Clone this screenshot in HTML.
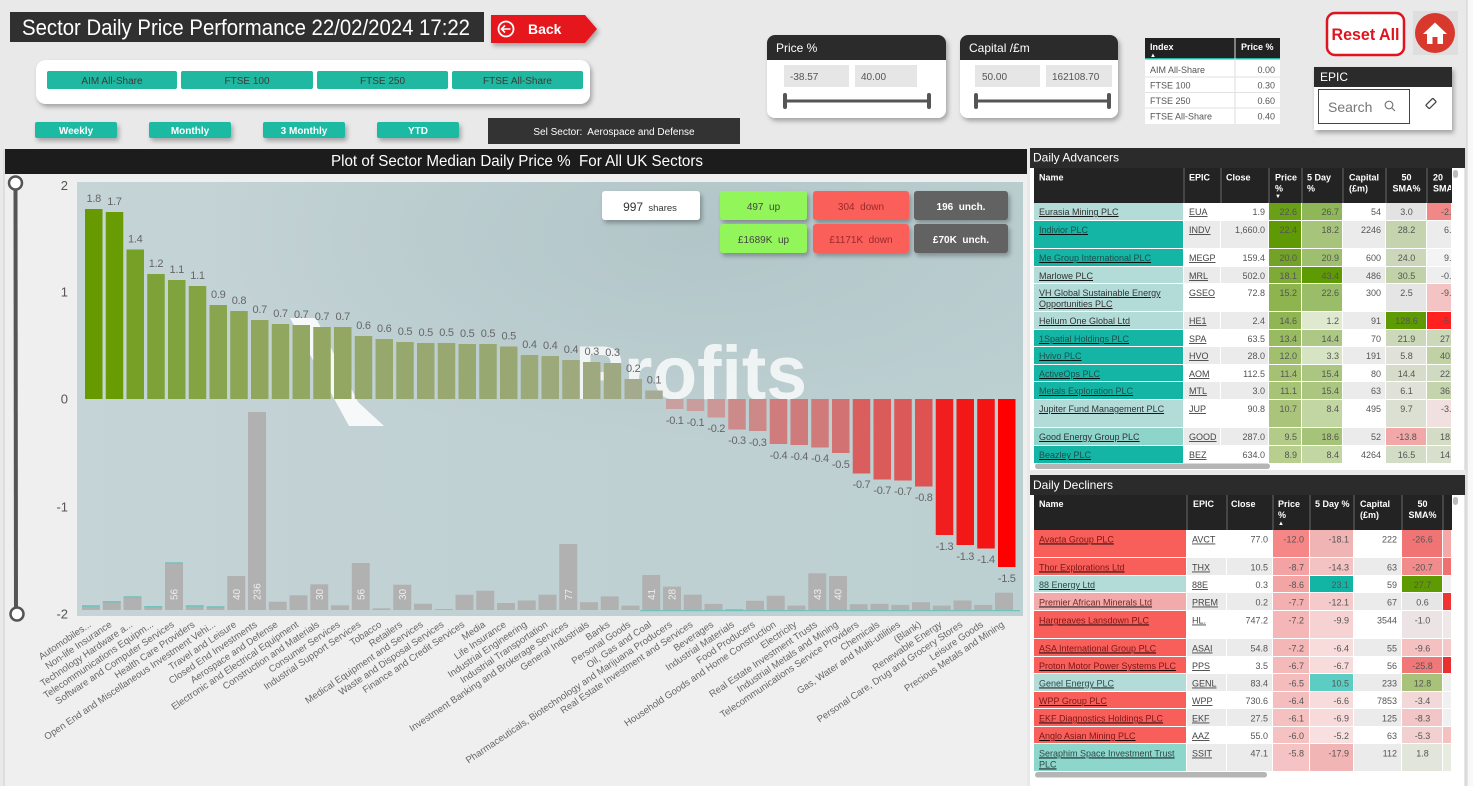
<!DOCTYPE html>
<html><head><meta charset="utf-8"><style>
html,body{margin:0;padding:0;background:#e9e9e9;}
svg{display:block;font-family:"Liberation Sans",sans-serif;}
.bl{font-size:11px;fill:#666;text-anchor:middle;letter-spacing:-0.3px}
.xl{font-size:9.6px;fill:#666;text-anchor:end}
.yl{font-size:13px;fill:#555;text-anchor:end}
.gn{font-size:10px;fill:#eee}
.hd{font-size:9px;fill:#fff;font-weight:bold}
.nm{font-size:9px;text-decoration:underline}
.t{font-size:9px;fill:#555}
.r{text-anchor:end}
.c{text-anchor:middle}
.ep{font-size:9px;fill:#444;text-decoration:underline}
</style></head><body>
<svg width="1473" height="786" viewBox="0 0 1473 786" xmlns="http://www.w3.org/2000/svg">
<defs>
<filter id="sh" x="-10%" y="-20%" width="130%" height="160%"><feDropShadow dx="2" dy="3" stdDeviation="2.5" flood-color="#000" flood-opacity=".3"/></filter>
<linearGradient id="pbg" x1="0" y1="0" x2="1" y2="0"><stop offset="0" stop-color="#c5d4d6"/><stop offset=".45" stop-color="#c0d1d3"/><stop offset="1" stop-color="#bccfd1"/></linearGradient>
<radialGradient id="dk" cx=".65" cy=".12" r=".5"><stop offset="0" stop-color="#a8bdc0" stop-opacity=".55"/><stop offset="1" stop-color="#a8bdc0" stop-opacity="0"/></radialGradient>
<clipPath id="c20"><rect x="1427" y="168" width="24" height="296"/></clipPath>
</defs>
<rect width="1473" height="786" fill="#e9e9e9"/>
<rect x="1467" y="0" width="6" height="786" fill="#f8f8f8"/>
<line x1="1467" y1="0" x2="1467" y2="786" stroke="#cfcfcf"/>

<!-- Title -->
<rect x="10" y="12" width="474" height="30" fill="#303030"/>
<text x="22" y="35" font-size="22" fill="#fff" textLength="448" lengthAdjust="spacingAndGlyphs">Sector Daily Price Performance 22/02/2024 17:22</text>
<path d="M491,15H585L597,29L585,43H491Z" fill="#e5131d" filter="url(#sh)"/>
<circle cx="506" cy="29" r="7.5" fill="none" stroke="#fff" stroke-width="1.8"/>
<path d="M510.5,29H502M505,25.5L501.5,29L505,32.5" fill="none" stroke="#fff" stroke-width="1.6"/>
<text x="528" y="34" font-size="14" font-weight="bold" fill="#fff">Back</text>

<!-- index buttons panel -->
<rect x="36" y="60" width="554" height="44" rx="10" fill="#fff" filter="url(#sh)"/>
<rect x="47" y="71" width="130" height="18" rx="2" fill="#20b8a0"/>
<rect x="181" y="71" width="132" height="18" rx="2" fill="#20b8a0"/>
<rect x="317" y="71" width="131" height="18" rx="2" fill="#20b8a0"/>
<rect x="452" y="71" width="131" height="18" rx="2" fill="#20b8a0"/>
<g font-size="10" fill="#3a3a3a" text-anchor="middle">
<text x="112" y="84">AIM All-Share</text><text x="247" y="84">FTSE 100</text><text x="382.5" y="84">FTSE 250</text><text x="517.5" y="84">FTSE All-Share</text></g>
<g filter="url(#sh)" fill="#1db9a3">
<rect x="35" y="122" width="82" height="16" rx="2"/><rect x="149" y="122" width="82" height="16" rx="2"/><rect x="263" y="122" width="82" height="16" rx="2"/><rect x="377" y="122" width="82" height="16" rx="2"/></g>
<g font-size="10" font-weight="bold" fill="#fff" text-anchor="middle">
<text x="76" y="134">Weekly</text><text x="190" y="134">Monthly</text><text x="304" y="134">3 Monthly</text><text x="418" y="134">YTD</text></g>
<rect x="488" y="118" width="252" height="26" fill="#333"/>
<text x="614" y="135" font-size="10" fill="#fff" text-anchor="middle">Sel Sector:&#160; Aerospace and Defense</text>

<!-- Price % panel -->
<rect x="767" y="35" width="179" height="83" rx="8" fill="#fff" filter="url(#sh)"/>
<rect x="767" y="35" width="179" height="25" rx="8" fill="#2b2b2b"/><rect x="767" y="48" width="179" height="12" fill="#2b2b2b"/>
<text x="776" y="52" font-size="12" fill="#fff">Price %</text>
<rect x="784" y="65" width="65" height="22" fill="#e6e6e6"/><rect x="855" y="65" width="62" height="22" fill="#e6e6e6"/>
<text x="790" y="80" font-size="10" fill="#555">-38.57</text><text x="861" y="80" font-size="10" fill="#555">40.00</text>
<line x1="786" y1="101" x2="928" y2="101" stroke="#555" stroke-width="3"/>
<rect x="783" y="93" width="4" height="16" rx="2" fill="#555"/><rect x="927" y="93" width="4" height="16" rx="2" fill="#555"/>

<!-- Capital panel -->
<rect x="960" y="35" width="158" height="83" rx="8" fill="#fff" filter="url(#sh)"/>
<rect x="960" y="35" width="158" height="25" rx="8" fill="#2b2b2b"/><rect x="960" y="48" width="158" height="12" fill="#2b2b2b"/>
<text x="969" y="52" font-size="12" fill="#fff">Capital /£m</text>
<rect x="975" y="65" width="65" height="22" fill="#e6e6e6"/><rect x="1046" y="65" width="66" height="22" fill="#e6e6e6"/>
<text x="982" y="80" font-size="10" fill="#555">50.00</text><text x="1052" y="80" font-size="10" fill="#555">162108.70</text>
<line x1="977" y1="101" x2="1109" y2="101" stroke="#555" stroke-width="3"/>
<rect x="974" y="93" width="4" height="16" rx="2" fill="#555"/><rect x="1107" y="93" width="4" height="16" rx="2" fill="#555"/>

<!-- Index table -->
<rect x="1145" y="38" width="135" height="86" fill="#fff"/>
<rect x="1145" y="38" width="135" height="20" fill="#222"/>
<rect x="1145" y="58" width="135" height="1.5" fill="#2bb5a5"/>
<line x1="1235" y1="38" x2="1235" y2="124" stroke="#ddd"/>
<text x="1150" y="50" class="hd" font-weight="normal">Index</text><text x="1150" y="57" font-size="6" fill="#fff">▲</text>
<text x="1241" y="50" class="hd" font-weight="normal">Price %</text>
<g stroke="#e2e2e2"><line x1="1145" y1="77" x2="1280" y2="77"/><line x1="1145" y1="92.5" x2="1280" y2="92.5"/><line x1="1145" y1="108" x2="1280" y2="108"/></g>
<g class="t" font-size="9"><text x="1150" y="73">AIM All-Share</text><text x="1150" y="88.5">FTSE 100</text><text x="1150" y="104">FTSE 250</text><text x="1150" y="119.5">FTSE All-Share</text>
<text x="1275" y="73" class="r">0.00</text><text x="1275" y="88.5" class="r">0.30</text><text x="1275" y="104" class="r">0.60</text><text x="1275" y="119.5" class="r">0.40</text></g>

<!-- Reset / Home -->
<rect x="1327" y="13" width="77" height="42" rx="8" fill="#fff" stroke="#e0141e" stroke-width="2.5"/>
<text x="1365.5" y="40" font-size="16.5" font-weight="bold" fill="#e0141e" text-anchor="middle" textLength="68" lengthAdjust="spacingAndGlyphs">Reset All</text>
<rect x="1413" y="11" width="45" height="44" fill="#dedede"/>
<circle cx="1435" cy="33" r="20" fill="#d8392c"/>
<path d="M1423,34L1435,22.5L1447,34Z" fill="#fff"/><rect x="1427" y="32" width="16" height="12" fill="#fff"/><rect x="1432.5" y="37" width="5" height="7" fill="#d8392c"/>

<!-- EPIC -->
<rect x="1314" y="67" width="138" height="63" fill="#fff" filter="url(#sh)"/>
<rect x="1314" y="67" width="138" height="20" fill="#2b2b2b"/>
<text x="1320" y="81" font-size="12" fill="#fff">EPIC</text>
<rect x="1318.5" y="89.5" width="91" height="34" fill="#fff" stroke="#444"/>
<text x="1328" y="112" font-size="14" fill="#777">Search</text>
<circle cx="1389" cy="105" r="3.8" fill="none" stroke="#777" stroke-width="1.2"/><line x1="1392" y1="108" x2="1395" y2="111" stroke="#777" stroke-width="1.2"/>
<rect x="1426" y="101" width="10" height="5" rx="1" transform="rotate(-45 1431 103.5)" fill="none" stroke="#444" stroke-width="1.3"/>

<!-- Chart panel -->
<rect x="4" y="149" width="1023" height="637" fill="#efefef"/>
<line x1="4" y1="149" x2="4" y2="786" stroke="#cfcfcf"/>
<rect x="5" y="149" width="1022" height="25" fill="#1c1c1c"/>
<text x="517" y="166" font-size="16" fill="#fff" text-anchor="middle" textLength="372" lengthAdjust="spacingAndGlyphs">Plot of Sector Median Daily Price %&#160; For All UK Sectors</text>

<rect x="77" y="182" width="946" height="434" fill="url(#pbg)"/>
<rect x="77" y="182" width="946" height="434" fill="url(#dk)"/>
<polygon points="290,318 316,318 358,402 384,426 349,426" fill="#fff" opacity=".85"/>
<text x="575" y="399" font-size="76" font-weight="bold" fill="#fff" opacity=".78" textLength="232" lengthAdjust="spacingAndGlyphs">Profits</text>

<!-- gray volume bars -->
<g fill="#b1b1b1">
<rect x="82" y="605.3" width="18" height="4.7"/><rect x="102.75" y="601" width="18" height="9"/><rect x="123.5" y="596.3" width="18" height="13.7"/><rect x="144.25" y="606" width="18" height="4"/><rect x="165" y="562.3" width="18" height="47.7"/><rect x="185.75" y="605.3" width="18" height="4.7"/><rect x="206.5" y="606.3" width="18" height="3.7"/><rect x="227.25" y="576" width="18" height="34"/><rect x="248" y="412" width="18" height="198"/><rect x="268.75" y="601.7" width="18" height="8.3"/><rect x="289.5" y="595.3" width="18" height="14.7"/><rect x="310.25" y="584.3" width="18" height="25.7"/><rect x="331" y="605.3" width="18" height="4.7"/><rect x="351.75" y="563" width="18" height="47"/><rect x="372.5" y="608.3" width="18" height="1.7"/><rect x="393.25" y="584.7" width="18" height="25.3"/><rect x="414" y="603.7" width="18" height="6.3"/><rect x="434.75" y="609" width="18" height="1"/><rect x="455.5" y="594.7" width="18" height="15.3"/><rect x="476.25" y="590.7" width="18" height="19.3"/><rect x="497" y="603" width="18" height="7"/><rect x="517.75" y="600.5" width="18" height="9.5"/><rect x="538.5" y="594.7" width="18" height="15.3"/><rect x="559.25" y="544" width="18" height="66"/><rect x="580" y="602.2" width="18" height="7.8"/><rect x="600.75" y="596.4" width="18" height="13.6"/><rect x="621.5" y="605.6" width="18" height="4.4"/><rect x="642.25" y="575" width="18" height="35"/><rect x="663" y="586.6" width="18" height="23.4"/><rect x="683.75" y="594.7" width="18" height="15.3"/><rect x="704.5" y="603.9" width="18" height="6.1"/><rect x="725.25" y="609" width="18" height="1"/><rect x="746" y="600.8" width="18" height="9.2"/><rect x="766.75" y="595.7" width="18" height="14.3"/><rect x="787.5" y="605.6" width="18" height="4.4"/><rect x="808.25" y="573.3" width="18" height="36.7"/><rect x="829" y="576" width="18" height="34"/><rect x="849.75" y="604.2" width="18" height="5.8"/><rect x="870.5" y="603.9" width="18" height="6.1"/><rect x="891.25" y="604.9" width="18" height="5.1"/><rect x="912" y="602.2" width="18" height="7.8"/><rect x="932.75" y="605.6" width="18" height="4.4"/><rect x="953.5" y="600.5" width="18" height="9.5"/><rect x="974.25" y="604.9" width="18" height="5.1"/><rect x="995" y="592.7" width="18" height="17.3"/>
</g>
<g fill="#6fc4be">
<rect x="82" y="605.3" width="18" height="1.5"/><rect x="102.75" y="601" width="18" height="1.5"/><rect x="123.5" y="596.3" width="18" height="1.5"/><rect x="144.25" y="606" width="18" height="1.5"/><rect x="165" y="562.3" width="18" height="1.2"/><rect x="185.75" y="605.3" width="18" height="1.5"/><rect x="206.5" y="606.3" width="18" height="1.5"/><rect x="640" y="610" width="380" height="1.2"/>
</g>
<g class="gn">
<text transform="translate(177.5,600) rotate(-90)">56</text><text transform="translate(239.75,600) rotate(-90)">40</text><text transform="translate(260.5,600) rotate(-90)">236</text><text transform="translate(322.75,600) rotate(-90)">30</text><text transform="translate(364.25,600) rotate(-90)">56</text><text transform="translate(405.75,600) rotate(-90)">30</text><text transform="translate(571.75,600) rotate(-90)">77</text><text transform="translate(654.75,600) rotate(-90)">41</text><text transform="translate(675.5,600) rotate(-90)">28</text><text transform="translate(820.75,600) rotate(-90)">43</text><text transform="translate(841.5,600) rotate(-90)">40</text>
</g>

<!-- main bars -->
<rect x="85" y="209" width="17.5" height="190" fill="#669a00"/>
<rect x="105.75" y="212" width="17.5" height="187" fill="#689b04"/>
<rect x="126.5" y="249.5" width="17.5" height="149.5" fill="#76a026"/>
<rect x="147.25" y="274" width="17.5" height="125" fill="#7fa238"/>
<rect x="168" y="280" width="17.5" height="119" fill="#81a33d"/>
<rect x="188.75" y="286" width="17.5" height="113" fill="#84a342"/>
<rect x="209.5" y="305" width="17.5" height="94" fill="#8aa550"/>
<rect x="230.25" y="311" width="17.5" height="88" fill="#8ca654"/>
<rect x="251" y="320" width="17.5" height="79" fill="#90a65d"/>
<rect x="271.75" y="324" width="17.5" height="75" fill="#91a760"/>
<rect x="292.5" y="325" width="17.5" height="74" fill="#92a761"/>
<rect x="313.25" y="327" width="17.5" height="72" fill="#93a763"/>
<rect x="334" y="327" width="17.5" height="72" fill="#93a763"/>
<rect x="354.75" y="336" width="17.5" height="63" fill="#95a86a"/>
<rect x="375.5" y="339" width="17.5" height="60" fill="#96a86c"/>
<rect x="396.25" y="342" width="17.5" height="57" fill="#97a86f"/>
<rect x="417" y="343" width="17.5" height="56" fill="#98a870"/>
<rect x="437.75" y="343" width="17.5" height="56" fill="#98a870"/>
<rect x="458.5" y="344" width="17.5" height="55" fill="#98a871"/>
<rect x="479.25" y="344" width="17.5" height="55" fill="#98a871"/>
<rect x="500" y="346.5" width="17.5" height="52.5" fill="#99a873"/>
<rect x="520.75" y="355" width="17.5" height="44" fill="#9ca979"/>
<rect x="541.5" y="356" width="17.5" height="43" fill="#9ca97a"/>
<rect x="562.25" y="360" width="17.5" height="39" fill="#9ea97d"/>
<rect x="583" y="362" width="17.5" height="37" fill="#9fa980"/>
<rect x="603.75" y="363" width="17.5" height="36" fill="#9fa981"/>
<rect x="624.5" y="379" width="17.5" height="20" fill="#a3aa8d"/>
<rect x="645.25" y="390.5" width="17.5" height="8.5" fill="#a6ab95"/>
<rect x="666" y="399" width="17.5" height="10" fill="#c8a0a0"/>
<rect x="686.75" y="399" width="17.5" height="12" fill="#c99d9d"/>
<rect x="707.5" y="399" width="17.5" height="18.5" fill="#cb9797"/>
<rect x="728.25" y="399" width="17.5" height="30.5" fill="#cd8a8a"/>
<rect x="749" y="399" width="17.5" height="32" fill="#cd8888"/>
<rect x="769.75" y="399" width="17.5" height="45" fill="#d07c7c"/>
<rect x="790.5" y="399" width="17.5" height="46" fill="#d07b7b"/>
<rect x="811.25" y="399" width="17.5" height="48.5" fill="#d17a7a"/>
<rect x="832" y="399" width="17.5" height="54" fill="#d37272"/>
<rect x="852.75" y="399" width="17.5" height="74.5" fill="#da5e5e"/>
<rect x="873.5" y="399" width="17.5" height="80.5" fill="#db5a5a"/>
<rect x="894.25" y="399" width="17.5" height="81.5" fill="#dc5959"/>
<rect x="915" y="399" width="17.5" height="87.5" fill="#de5252"/>
<rect x="935.75" y="399" width="17.5" height="136" fill="#f01e1e"/>
<rect x="956.5" y="399" width="17.5" height="146" fill="#f31818"/>
<rect x="977.25" y="399" width="17.5" height="149.5" fill="#f51414"/>
<rect x="998" y="399" width="17.5" height="168" fill="#ff0000"/>

<g class="bl">
<text x="93.75" y="202">1.8</text><text x="114.5" y="205">1.7</text><text x="135.25" y="242.5">1.4</text><text x="156" y="267">1.2</text><text x="176.75" y="273">1.1</text><text x="197.5" y="279">1.1</text><text x="218.25" y="298">0.9</text><text x="239" y="304">0.8</text><text x="259.75" y="313">0.7</text><text x="280.5" y="317">0.7</text><text x="301.25" y="318">0.7</text><text x="322" y="320">0.7</text><text x="342.75" y="320">0.7</text><text x="363.5" y="329">0.6</text><text x="384.25" y="332">0.6</text><text x="405" y="335">0.5</text><text x="425.75" y="336">0.5</text><text x="446.5" y="336">0.5</text><text x="467.25" y="337">0.5</text><text x="488" y="337">0.5</text><text x="508.75" y="339.5">0.5</text><text x="529.5" y="348">0.4</text><text x="550.25" y="349">0.4</text><text x="571" y="353">0.4</text><text x="591.75" y="355">0.3</text><text x="612.5" y="356">0.3</text><text x="633.25" y="372">0.2</text><text x="654" y="383.5">0.1</text>
<text x="674.75" y="424">-0.1</text><text x="695.5" y="426">-0.1</text><text x="716.25" y="432">-0.2</text><text x="737" y="444">-0.3</text><text x="757.75" y="446">-0.3</text><text x="778.5" y="459">-0.4</text><text x="799.25" y="460">-0.4</text><text x="820" y="462">-0.4</text><text x="840.75" y="468">-0.5</text><text x="861.5" y="488">-0.7</text><text x="882.25" y="494">-0.7</text><text x="903" y="495">-0.7</text><text x="923.75" y="501">-0.8</text><text x="944.5" y="550">-1.3</text><text x="965.25" y="560">-1.3</text><text x="986" y="563">-1.4</text><text x="1006.75" y="582">-1.5</text>
</g>

<!-- stats boxes -->
<rect x="602" y="191" width="98" height="29" rx="3" fill="#fff" filter="url(#sh)"/>
<text x="650" y="211" text-anchor="middle" fill="#333"><tspan font-size="12">997</tspan><tspan font-size="9.5">&#160; shares</tspan></text>
<g filter="url(#sh)">
<rect x="720" y="191" width="87" height="29" rx="3" fill="#92f65a"/><rect x="720" y="224" width="87" height="29" rx="3" fill="#92f65a"/>
<rect x="813" y="191" width="96" height="29" rx="3" fill="#fa5f5a"/><rect x="813" y="224" width="96" height="29" rx="3" fill="#fa5f5a"/>
<rect x="914" y="191" width="94" height="29" rx="3" fill="#626262"/><rect x="914" y="224" width="94" height="29" rx="3" fill="#626262"/>
</g>
<g font-size="10" text-anchor="middle">
<text x="763.5" y="210" fill="#444">497&#160; up</text><text x="763.5" y="243" fill="#444">£1689K&#160; up</text>
<text x="861" y="210" fill="#9a2a2a">304&#160; down</text><text x="861" y="243" fill="#9a2a2a">£1171K&#160; down</text>
<text x="961" y="210" fill="#fff" font-weight="bold">196&#160; unch.</text><text x="961" y="243" fill="#fff" font-weight="bold">£70K&#160; unch.</text>
</g>

<!-- y axis -->
<g class="yl"><text x="68" y="190">2</text><text x="68" y="296.5">1</text><text x="68" y="403.5">0</text><text x="68" y="511.5">-1</text><text x="68" y="618.5">-2</text></g>
<line x1="15.5" y1="184" x2="16" y2="613" stroke="#555" stroke-width="4"/>
<circle cx="15.5" cy="183" r="6.5" fill="#fff" stroke="#555" stroke-width="2.5"/>
<circle cx="17" cy="614" r="6.5" fill="#fff" stroke="#555" stroke-width="2.5"/>

<!-- x labels -->
<g class="xl">
<text transform="translate(91.75,626) rotate(-34)">Automobiles...</text>
<text transform="translate(112.5,626) rotate(-34)">Non-life Insurance</text>
<text transform="translate(133.25,626) rotate(-34)">Technology Hardware a...</text>
<text transform="translate(154,626) rotate(-34)">Telecommunications Equipm...</text>
<text transform="translate(174.75,626) rotate(-34)">Software and Computer Services</text>
<text transform="translate(195.5,626) rotate(-34)">Health Care Providers</text>
<text transform="translate(216.25,626) rotate(-34)">Open End and Miscellaneous Investment Vehi...</text>
<text transform="translate(237,626) rotate(-34)">Travel and Leisure</text>
<text transform="translate(257.75,626) rotate(-34)">Closed End Investments</text>
<text transform="translate(278.5,626) rotate(-34)">Aerospace and Defense</text>
<text transform="translate(299.25,626) rotate(-34)">Electronic and Electrical Equipment</text>
<text transform="translate(320,626) rotate(-34)">Construction and Materials</text>
<text transform="translate(340.75,626) rotate(-34)">Consumer Services</text>
<text transform="translate(361.5,626) rotate(-34)">Industrial Support Services</text>
<text transform="translate(382.25,626) rotate(-34)">Tobacco</text>
<text transform="translate(403,626) rotate(-34)">Retailers</text>
<text transform="translate(423.75,626) rotate(-34)">Medical Equipment and Services</text>
<text transform="translate(444.5,626) rotate(-34)">Waste and Disposal Services</text>
<text transform="translate(465.25,626) rotate(-34)">Finance and Credit Services</text>
<text transform="translate(486,626) rotate(-34)">Media</text>
<text transform="translate(506.75,626) rotate(-34)">Life Insurance</text>
<text transform="translate(527.5,626) rotate(-34)">Industrial Engineering</text>
<text transform="translate(548.25,626) rotate(-34)">Industrial Transportation</text>
<text transform="translate(569,626) rotate(-34)">Investment Banking and Brokerage Services</text>
<text transform="translate(589.75,626) rotate(-34)">General Industrials</text>
<text transform="translate(610.5,626) rotate(-34)">Banks</text>
<text transform="translate(631.25,626) rotate(-34)">Personal Goods</text>
<text transform="translate(652,626) rotate(-34)">Oil, Gas and Coal</text>
<text transform="translate(672.75,626) rotate(-34)">Pharmaceuticals, Biotechnology and Marijuana Producers</text>
<text transform="translate(693.5,626) rotate(-34)">Real Estate Investment and Services</text>
<text transform="translate(714.25,626) rotate(-34)">Beverages</text>
<text transform="translate(735,626) rotate(-34)">Industrial Materials</text>
<text transform="translate(755.75,626) rotate(-34)">Food Producers</text>
<text transform="translate(776.5,626) rotate(-34)">Household Goods and Home Construction</text>
<text transform="translate(797.25,626) rotate(-34)">Electricity</text>
<text transform="translate(818,626) rotate(-34)">Real Estate Investment Trusts</text>
<text transform="translate(838.75,626) rotate(-34)">Industrial Metals and Mining</text>
<text transform="translate(859.5,626) rotate(-34)">Telecommunications Service Providers</text>
<text transform="translate(880.25,626) rotate(-34)">Chemicals</text>
<text transform="translate(901,626) rotate(-34)">Gas, Water and Multi-utilities</text>
<text transform="translate(921.75,626) rotate(-34)">(Blank)</text>
<text transform="translate(942.5,626) rotate(-34)">Renewable Energy</text>
<text transform="translate(963.25,626) rotate(-34)">Personal Care, Drug and Grocery Stores</text>
<text transform="translate(984,626) rotate(-34)">Leisure Goods</text>
<text transform="translate(1004.75,626) rotate(-34)">Precious Metals and Mining</text>
</g>

<!-- ===== Daily Advancers ===== -->
<rect x="1030" y="148" width="435" height="322" fill="#fff"/>
<line x1="1465" y1="148" x2="1465" y2="470" stroke="#ccc"/>
<rect x="1030" y="148" width="435" height="20" fill="#2b2b2b"/>
<text x="1033" y="161.5" font-size="12" fill="#fff">Daily Advancers</text>
<rect x="1034" y="168" width="418" height="35" fill="#232323"/>
<g stroke="#6a6a6a"><line x1="1184" y1="168" x2="1184" y2="203"/><line x1="1221" y1="168" x2="1221" y2="203"/><line x1="1269" y1="168" x2="1269" y2="203"/><line x1="1302" y1="168" x2="1302" y2="203"/><line x1="1343" y1="168" x2="1343" y2="203"/><line x1="1386" y1="168" x2="1386" y2="203"/><line x1="1427" y1="168" x2="1427" y2="203"/></g>
<g class="hd">
<text x="1039" y="180.5">Name</text><text x="1189" y="180.5">EPIC</text><text x="1226" y="180.5">Close</text>
<text x="1275" y="180.5">Price</text><text x="1275" y="191.5">%</text><text x="1275" y="198" font-size="6">▼</text>
<text x="1307" y="180.5">5 Day</text><text x="1307" y="191.5">%</text>
<text x="1349" y="180.5">Capital</text><text x="1349" y="191.5">(£m)</text>
<text x="1406.5" y="180.5" text-anchor="middle">50</text><text x="1406.5" y="191.5" text-anchor="middle">SMA%</text>
</g>
<g clip-path="url(#c20)" class="hd"><text x="1433" y="180.5">20</text><text x="1433" y="191.5">SMA</text></g>
<rect x="1453" y="170" width="5" height="8" rx="2.5" fill="#bbb"/>

<g>
<rect x="1034" y="203" width="149" height="17" fill="#b3dcd8"/>
<rect x="1034" y="221" width="149" height="27" fill="#14b5a5"/>
<rect x="1034" y="249" width="149" height="17" fill="#14b5a5"/>
<rect x="1034" y="267" width="149" height="16" fill="#b3dcd8"/>
<rect x="1034" y="284" width="149" height="27" fill="#b3dcd8"/>
<rect x="1034" y="312" width="149" height="17" fill="#b3dcd8"/>
<rect x="1034" y="330" width="149" height="16" fill="#14b5a5"/>
<rect x="1034" y="347" width="149" height="17" fill="#14b5a5"/>
<rect x="1034" y="365" width="149" height="16" fill="#14b5a5"/>
<rect x="1034" y="382" width="149" height="17" fill="#14b5a5"/>
<rect x="1034" y="400" width="149" height="27" fill="#b3dcd8"/>
<rect x="1034" y="428" width="149" height="17" fill="#8dd4cb"/>
<rect x="1034" y="446" width="149" height="17" fill="#14b5a5"/>
</g>
<g fill="#ebebeb">
<rect x="1184" y="221" width="36" height="27"/><rect x="1221" y="221" width="47" height="27"/><rect x="1343" y="221" width="42" height="27"/>
<rect x="1184" y="267" width="36" height="16"/><rect x="1221" y="267" width="47" height="16"/><rect x="1343" y="267" width="42" height="16"/>
<rect x="1184" y="312" width="36" height="17"/><rect x="1221" y="312" width="47" height="17"/><rect x="1343" y="312" width="42" height="17"/>
<rect x="1184" y="347" width="36" height="17"/><rect x="1221" y="347" width="47" height="17"/><rect x="1343" y="347" width="42" height="17"/>
<rect x="1184" y="382" width="36" height="17"/><rect x="1221" y="382" width="47" height="17"/><rect x="1343" y="382" width="42" height="17"/>
<rect x="1184" y="428" width="36" height="17"/><rect x="1221" y="428" width="47" height="17"/><rect x="1343" y="428" width="42" height="17"/>
</g>
<rect x="1269" y="203" width="32" height="17" fill="#6aa018"/>
<rect x="1269" y="221" width="32" height="27" fill="#5f9a04"/>
<rect x="1269" y="249" width="32" height="17" fill="#72a326"/>
<rect x="1269" y="267" width="32" height="16" fill="#7dab35"/>
<rect x="1269" y="284" width="32" height="27" fill="#8db44e"/>
<rect x="1269" y="312" width="32" height="17" fill="#90b554"/>
<rect x="1269" y="330" width="32" height="16" fill="#98ba60"/>
<rect x="1269" y="347" width="32" height="17" fill="#a1c06d"/>
<rect x="1269" y="365" width="32" height="16" fill="#a5c273"/>
<rect x="1269" y="382" width="32" height="17" fill="#a7c376"/>
<rect x="1269" y="400" width="32" height="27" fill="#aac57b"/>
<rect x="1269" y="428" width="32" height="17" fill="#b3cb88"/>
<rect x="1269" y="446" width="32" height="17" fill="#b7ce8e"/>
<rect x="1302" y="203" width="40" height="17" fill="#8fb757"/>
<rect x="1302" y="221" width="40" height="27" fill="#a6c47a"/>
<rect x="1302" y="249" width="40" height="17" fill="#9ec06e"/>
<rect x="1302" y="267" width="40" height="16" fill="#5e9a02"/>
<rect x="1302" y="284" width="40" height="27" fill="#99bd68"/>
<rect x="1302" y="312" width="40" height="17" fill="#dfe9cf"/>
<rect x="1302" y="330" width="40" height="16" fill="#adc884"/>
<rect x="1302" y="347" width="40" height="17" fill="#d7e4c4"/>
<rect x="1302" y="365" width="40" height="16" fill="#aac680"/>
<rect x="1302" y="382" width="40" height="17" fill="#aac680"/>
<rect x="1302" y="400" width="40" height="27" fill="#c2d6a4"/>
<rect x="1302" y="428" width="40" height="17" fill="#a5c379"/>
<rect x="1302" y="446" width="40" height="17" fill="#c2d6a4"/>
<rect x="1386" y="203" width="40" height="17" fill="#e3e3e3"/>
<rect x="1386" y="221" width="40" height="27" fill="#c5d3ae"/>
<rect x="1386" y="249" width="40" height="17" fill="#cbd7b8"/>
<rect x="1386" y="267" width="40" height="16" fill="#c1d1a8"/>
<rect x="1386" y="284" width="40" height="27" fill="#e5e5e5"/>
<rect x="1386" y="312" width="40" height="17" fill="#5e9a02"/>
<rect x="1386" y="330" width="40" height="16" fill="#ccd8ba"/>
<rect x="1386" y="347" width="40" height="17" fill="#e0e2da"/>
<rect x="1386" y="365" width="40" height="16" fill="#d5ddca"/>
<rect x="1386" y="382" width="40" height="17" fill="#e0e2da"/>
<rect x="1386" y="400" width="40" height="27" fill="#dce0d2"/>
<rect x="1386" y="428" width="40" height="17" fill="#f2a8a8"/>
<rect x="1386" y="446" width="40" height="17" fill="#d3dcc6"/>
<rect x="1427" y="203" width="24" height="17" fill="#f08888"/>
<rect x="1427" y="221" width="24" height="27" fill="#ececec"/>
<rect x="1427" y="249" width="24" height="17" fill="#f4f4f4"/>
<rect x="1427" y="267" width="24" height="16" fill="#eeeeee"/>
<rect x="1427" y="284" width="24" height="27" fill="#f4c4c4"/>
<rect x="1427" y="312" width="24" height="17" fill="#ff2020"/>
<rect x="1427" y="330" width="24" height="16" fill="#ccd8ba"/>
<rect x="1427" y="347" width="24" height="17" fill="#c0d2a4"/>
<rect x="1427" y="365" width="24" height="16" fill="#d0dac0"/>
<rect x="1427" y="382" width="24" height="17" fill="#c4d4ac"/>
<rect x="1427" y="400" width="24" height="27" fill="#f0e0e0"/>
<rect x="1427" y="428" width="24" height="17" fill="#d4dcc6"/>
<rect x="1427" y="446" width="24" height="17" fill="#d8dfcc"/>

<g class="nm">
<text x="1039" y="215" fill="#333">Eurasia Mining PLC</text>
<text x="1039" y="233" fill="#1d4f4b">Indivior PLC</text>
<text x="1039" y="261" fill="#1d4f4b">Me Group International PLC</text>
<text x="1039" y="279" fill="#333">Marlowe PLC</text>
<text x="1039" y="296" fill="#333">VH Global Sustainable Energy</text>
<text x="1039" y="307" fill="#333">Opportunities PLC</text>
<text x="1039" y="324" fill="#333">Helium One Global Ltd</text>
<text x="1039" y="342" fill="#1d4f4b">1Spatial Holdings PLC</text>
<text x="1039" y="359" fill="#1d4f4b">Hvivo PLC</text>
<text x="1039" y="377" fill="#1d4f4b">ActiveOps PLC</text>
<text x="1039" y="394" fill="#1d4f4b">Metals Exploration PLC</text>
<text x="1039" y="412" fill="#333">Jupiter Fund Management PLC</text>
<text x="1039" y="440" fill="#333">Good Energy Group PLC</text>
<text x="1039" y="458" fill="#1d4f4b">Beazley PLC</text>
</g>
<g class="ep">
<text x="1189" y="215">EUA</text><text x="1189" y="233">INDV</text><text x="1189" y="261">MEGP</text><text x="1189" y="279">MRL</text><text x="1189" y="296">GSEO</text><text x="1189" y="324">HE1</text><text x="1189" y="342">SPA</text><text x="1189" y="359">HVO</text><text x="1189" y="377">AOM</text><text x="1189" y="394">MTL</text><text x="1189" y="412">JUP</text><text x="1189" y="440">GOOD</text><text x="1189" y="458">BEZ</text>
</g>
<g class="t r">
<text x="1265" y="215">1.9</text><text x="1265" y="233">1,660.0</text><text x="1265" y="261">159.4</text><text x="1265" y="279">502.0</text><text x="1265" y="296">72.8</text><text x="1265" y="324">2.4</text><text x="1265" y="342">63.5</text><text x="1265" y="359">28.0</text><text x="1265" y="377">112.5</text><text x="1265" y="394">3.0</text><text x="1265" y="412">90.8</text><text x="1265" y="440">287.0</text><text x="1265" y="458">634.0</text>
<text x="1297" y="215">22.6</text><text x="1297" y="233">22.4</text><text x="1297" y="261">20.0</text><text x="1297" y="279">18.1</text><text x="1297" y="296">15.2</text><text x="1297" y="324">14.6</text><text x="1297" y="342">13.4</text><text x="1297" y="359">12.0</text><text x="1297" y="377">11.4</text><text x="1297" y="394">11.1</text><text x="1297" y="412">10.7</text><text x="1297" y="440">9.5</text><text x="1297" y="458">8.9</text>
<text x="1339" y="215">26.7</text><text x="1339" y="233">18.2</text><text x="1339" y="261">20.9</text><text x="1339" y="279">43.4</text><text x="1339" y="296">22.6</text><text x="1339" y="324">1.2</text><text x="1339" y="342">14.4</text><text x="1339" y="359">3.3</text><text x="1339" y="377">15.4</text><text x="1339" y="394">15.4</text><text x="1339" y="412">8.4</text><text x="1339" y="440">18.6</text><text x="1339" y="458">8.4</text>
<text x="1381" y="215">54</text><text x="1381" y="233">2246</text><text x="1381" y="261">600</text><text x="1381" y="279">486</text><text x="1381" y="296">300</text><text x="1381" y="324">91</text><text x="1381" y="342">70</text><text x="1381" y="359">191</text><text x="1381" y="377">80</text><text x="1381" y="394">63</text><text x="1381" y="412">495</text><text x="1381" y="440">52</text><text x="1381" y="458">4264</text>
</g>
<g class="t c">
<text x="1406.5" y="215">3.0</text><text x="1406.5" y="233">28.2</text><text x="1406.5" y="261">24.0</text><text x="1406.5" y="279">30.5</text><text x="1406.5" y="296">2.5</text><text x="1406.5" y="324">128.6</text><text x="1406.5" y="342">21.9</text><text x="1406.5" y="359">5.8</text><text x="1406.5" y="377">14.4</text><text x="1406.5" y="394">6.1</text><text x="1406.5" y="412">9.7</text><text x="1406.5" y="440">-13.8</text><text x="1406.5" y="458">16.5</text>
</g>
<g class="t" clip-path="url(#c20)">
<text x="1441" y="215">-2.4</text><text x="1444" y="233">6.2</text><text x="1444" y="261">9.1</text><text x="1441" y="279">-0.8</text><text x="1441" y="296">-9.3</text><text x="1441" y="324">-5.1</text><text x="1440" y="342">27.1</text><text x="1440" y="359">40.2</text><text x="1440" y="377">22.3</text><text x="1440" y="394">36.4</text><text x="1441" y="412">-3.2</text><text x="1440" y="440">18.2</text><text x="1440" y="458">14.6</text>
</g>
<rect x="1035" y="463.5" width="235" height="5.5" rx="2.7" fill="#b5b5b5"/>

<!-- ===== Daily Decliners ===== -->
<rect x="1030" y="475" width="435" height="311" fill="#fff"/>
<line x1="1465" y1="475" x2="1465" y2="786" stroke="#ccc"/>
<rect x="1030" y="475" width="435" height="20" fill="#2b2b2b"/>
<text x="1033" y="489" font-size="12" fill="#fff">Daily Decliners</text>
<rect x="1034" y="495" width="418" height="35" fill="#232323"/>
<g stroke="#6a6a6a"><line x1="1187" y1="495" x2="1187" y2="530"/><line x1="1227" y1="495" x2="1227" y2="530"/><line x1="1273" y1="495" x2="1273" y2="530"/><line x1="1310" y1="495" x2="1310" y2="530"/><line x1="1354" y1="495" x2="1354" y2="530"/><line x1="1402" y1="495" x2="1402" y2="530"/><line x1="1443" y1="495" x2="1443" y2="530"/></g>
<g class="hd">
<text x="1039" y="507">Name</text><text x="1193" y="507">EPIC</text><text x="1231" y="507">Close</text>
<text x="1278" y="507">Price</text><text x="1278" y="518">%</text><text x="1278" y="525" font-size="6">▲</text>
<text x="1315" y="507">5 Day %</text>
<text x="1360" y="507">Capital</text><text x="1360" y="518">(£m)</text>
<text x="1422.5" y="507" text-anchor="middle">50</text><text x="1422.5" y="518" text-anchor="middle">SMA%</text>
</g>
<rect x="1453" y="497" width="5" height="8" rx="2.5" fill="#bbb"/>

<rect x="1034" y="530" width="152" height="27" fill="#f85f5a"/>
<rect x="1034" y="558" width="152" height="17" fill="#f85f5a"/>
<rect x="1034" y="576" width="152" height="16" fill="#b3dcd8"/>
<rect x="1034" y="593" width="152" height="17" fill="#f2aaaa"/>
<rect x="1034" y="611" width="152" height="27" fill="#f85f5a"/>
<rect x="1034" y="639" width="152" height="17" fill="#f85f5a"/>
<rect x="1034" y="657" width="152" height="16" fill="#f85f5a"/>
<rect x="1034" y="674" width="152" height="17" fill="#b3dcd8"/>
<rect x="1034" y="692" width="152" height="16" fill="#f85f5a"/>
<rect x="1034" y="709" width="152" height="17" fill="#f85f5a"/>
<rect x="1034" y="727" width="152" height="16" fill="#f85f5a"/>
<rect x="1034" y="744" width="152" height="27" fill="#8dd6cc"/>
<g fill="#ebebeb">
<rect x="1187" y="558" width="39" height="17"/><rect x="1227" y="558" width="45" height="17"/><rect x="1354" y="558" width="47" height="17"/>
<rect x="1187" y="593" width="39" height="17"/><rect x="1227" y="593" width="45" height="17"/><rect x="1354" y="593" width="47" height="17"/>
<rect x="1187" y="639" width="39" height="17"/><rect x="1227" y="639" width="45" height="17"/><rect x="1354" y="639" width="47" height="17"/>
<rect x="1187" y="674" width="39" height="17"/><rect x="1227" y="674" width="45" height="17"/><rect x="1354" y="674" width="47" height="17"/>
<rect x="1187" y="709" width="39" height="17"/><rect x="1227" y="709" width="45" height="17"/><rect x="1354" y="709" width="47" height="17"/>
<rect x="1187" y="744" width="39" height="27"/><rect x="1227" y="744" width="45" height="27"/><rect x="1354" y="744" width="47" height="27"/>
</g>
<rect x="1273" y="530" width="36" height="27" fill="#f58787"/>
<rect x="1273" y="558" width="36" height="17" fill="#f3a3a3"/>
<rect x="1273" y="576" width="36" height="16" fill="#f3a5a5"/>
<rect x="1273" y="593" width="36" height="17" fill="#f4b0b0"/>
<rect x="1273" y="611" width="36" height="27" fill="#f4b6b6"/>
<rect x="1273" y="639" width="36" height="17" fill="#f4b6b6"/>
<rect x="1273" y="657" width="36" height="16" fill="#f4baba"/>
<rect x="1273" y="674" width="36" height="17" fill="#f4bcbc"/>
<rect x="1273" y="692" width="36" height="16" fill="#f5bebe"/>
<rect x="1273" y="709" width="36" height="17" fill="#f5c0c0"/>
<rect x="1273" y="727" width="36" height="16" fill="#f5c1c1"/>
<rect x="1273" y="744" width="36" height="27" fill="#f5c3c3"/>
<rect x="1310" y="530" width="43" height="27" fill="#f1b4b4"/>
<rect x="1310" y="558" width="43" height="17" fill="#f3c2c2"/>
<rect x="1310" y="576" width="43" height="16" fill="#12b4a4"/>
<rect x="1310" y="593" width="43" height="17" fill="#f4caca"/>
<rect x="1310" y="611" width="43" height="27" fill="#f6d2d2"/>
<rect x="1310" y="639" width="43" height="17" fill="#f8dcdc"/>
<rect x="1310" y="657" width="43" height="16" fill="#f8dbdb"/>
<rect x="1310" y="674" width="43" height="17" fill="#5ccdc2"/>
<rect x="1310" y="692" width="43" height="16" fill="#f8dbdb"/>
<rect x="1310" y="709" width="43" height="17" fill="#f8dada"/>
<rect x="1310" y="727" width="43" height="16" fill="#f9e0e0"/>
<rect x="1310" y="744" width="43" height="27" fill="#f1b5b5"/>
<rect x="1402" y="530" width="40" height="27" fill="#f07474"/>
<rect x="1402" y="558" width="40" height="17" fill="#f28c8c"/>
<rect x="1402" y="576" width="40" height="16" fill="#5e9a02"/>
<rect x="1402" y="593" width="40" height="17" fill="#e6e6e6"/>
<rect x="1402" y="611" width="40" height="27" fill="#ece4e4"/>
<rect x="1402" y="639" width="40" height="17" fill="#f4c0c0"/>
<rect x="1402" y="657" width="40" height="16" fill="#f07878"/>
<rect x="1402" y="674" width="40" height="17" fill="#a9c27a"/>
<rect x="1402" y="692" width="40" height="16" fill="#f2d8d8"/>
<rect x="1402" y="709" width="40" height="17" fill="#f2c6c6"/>
<rect x="1402" y="727" width="40" height="16" fill="#f2d0d0"/>
<rect x="1402" y="744" width="40" height="27" fill="#e2e6da"/>
<rect x="1443" y="530" width="8" height="27" fill="#f4a8a8"/>
<rect x="1443" y="558" width="8" height="17" fill="#f07070"/>
<rect x="1443" y="576" width="8" height="16" fill="#f0f0f0"/>
<rect x="1443" y="593" width="8" height="17" fill="#f03434"/>
<rect x="1443" y="611" width="8" height="27" fill="#f0e8e8"/>
<rect x="1443" y="639" width="8" height="17" fill="#f4c8c8"/>
<rect x="1443" y="657" width="8" height="16" fill="#e83030"/>
<rect x="1443" y="674" width="8" height="17" fill="#f0f0f0"/>
<rect x="1443" y="692" width="8" height="16" fill="#f0f0f0"/>
<rect x="1443" y="709" width="8" height="17" fill="#f0f0f0"/>
<rect x="1443" y="727" width="8" height="16" fill="#f4c0c0"/>
<rect x="1443" y="744" width="8" height="27" fill="#e8ece0"/>

<g class="nm">
<text x="1039" y="542.5" fill="#7d1515">Avacta Group PLC</text>
<text x="1039" y="570.5" fill="#7d1515">Thor Explorations Ltd</text>
<text x="1039" y="588" fill="#2d4a48">88 Energy Ltd</text>
<text x="1039" y="605.5" fill="#7a2a2a">Premier African Minerals Ltd</text>
<text x="1039" y="623.5" fill="#7d1515">Hargreaves Lansdown PLC</text>
<text x="1039" y="651.5" fill="#7d1515">ASA International Group PLC</text>
<text x="1039" y="669" fill="#7d1515">Proton Motor Power Systems PLC</text>
<text x="1039" y="686.5" fill="#2d4a48">Genel Energy PLC</text>
<text x="1039" y="704" fill="#7d1515">WPP Group PLC</text>
<text x="1039" y="721.5" fill="#7d1515">EKF Diagnostics Holdings PLC</text>
<text x="1039" y="739" fill="#7d1515">Anglo Asian Mining PLC</text>
<text x="1039" y="756.5" fill="#2d4a48">Seraphim Space Investment Trust</text>
<text x="1039" y="767.5" fill="#2d4a48">PLC</text>
</g>
<g class="ep">
<text x="1192" y="542.5">AVCT</text><text x="1192" y="570.5">THX</text><text x="1192" y="588">88E</text><text x="1192" y="605.5">PREM</text><text x="1192" y="623.5">HL.</text><text x="1192" y="651.5">ASAI</text><text x="1192" y="669">PPS</text><text x="1192" y="686.5">GENL</text><text x="1192" y="704">WPP</text><text x="1192" y="721.5">EKF</text><text x="1192" y="739">AAZ</text><text x="1192" y="756.5">SSIT</text>
</g>
<g class="t r">
<text x="1268" y="542.5">77.0</text><text x="1268" y="570.5">10.5</text><text x="1268" y="588">0.3</text><text x="1268" y="605.5">0.2</text><text x="1268" y="623.5">747.2</text><text x="1268" y="651.5">54.8</text><text x="1268" y="669">3.5</text><text x="1268" y="686.5">83.4</text><text x="1268" y="704">730.6</text><text x="1268" y="721.5">27.5</text><text x="1268" y="739">55.0</text><text x="1268" y="756.5">47.1</text>
<text x="1304" y="542.5">-12.0</text><text x="1304" y="570.5">-8.7</text><text x="1304" y="588">-8.6</text><text x="1304" y="605.5">-7.7</text><text x="1304" y="623.5">-7.2</text><text x="1304" y="651.5">-7.2</text><text x="1304" y="669">-6.7</text><text x="1304" y="686.5">-6.5</text><text x="1304" y="704">-6.4</text><text x="1304" y="721.5">-6.1</text><text x="1304" y="739">-6.0</text><text x="1304" y="756.5">-5.8</text>
<text x="1349" y="542.5">-18.1</text><text x="1349" y="570.5">-14.3</text><text x="1349" y="588">23.1</text><text x="1349" y="605.5">-12.1</text><text x="1349" y="623.5">-9.9</text><text x="1349" y="651.5">-6.4</text><text x="1349" y="669">-6.7</text><text x="1349" y="686.5">10.5</text><text x="1349" y="704">-6.6</text><text x="1349" y="721.5">-6.9</text><text x="1349" y="739">-5.2</text><text x="1349" y="756.5">-17.9</text>
<text x="1397" y="542.5">222</text><text x="1397" y="570.5">63</text><text x="1397" y="588">59</text><text x="1397" y="605.5">67</text><text x="1397" y="623.5">3544</text><text x="1397" y="651.5">55</text><text x="1397" y="669">56</text><text x="1397" y="686.5">233</text><text x="1397" y="704">7853</text><text x="1397" y="721.5">125</text><text x="1397" y="739">63</text><text x="1397" y="756.5">112</text>
</g>
<g class="t c">
<text x="1422.5" y="542.5">-26.6</text><text x="1422.5" y="570.5">-20.7</text><text x="1422.5" y="588">27.7</text><text x="1422.5" y="605.5">0.6</text><text x="1422.5" y="623.5">-1.0</text><text x="1422.5" y="651.5">-9.6</text><text x="1422.5" y="669">-25.8</text><text x="1422.5" y="686.5">12.8</text><text x="1422.5" y="704">-3.4</text><text x="1422.5" y="721.5">-8.3</text><text x="1422.5" y="739">-5.3</text><text x="1422.5" y="756.5">1.8</text>
</g>
<rect x="1035" y="772" width="232" height="5.5" rx="2.7" fill="#b5b5b5"/>
</svg>
</body></html>
